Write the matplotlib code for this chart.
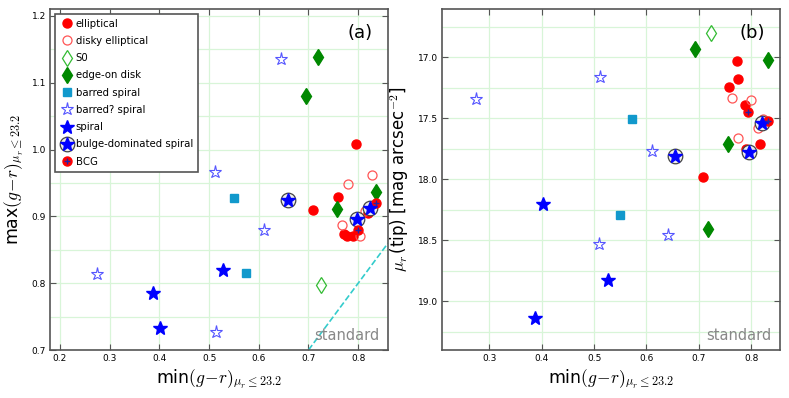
import numpy as np
import matplotlib
matplotlib.use("Agg")
import matplotlib.pyplot as plt

plt.rcParams['mathtext.fontset'] = 'cm'
plt.rcParams['font.family'] = 'DejaVu Sans'

# min(g-r) per galaxy type, max(g-r) for panel (a), mu_r(tip) for panel (b)
ell_x = [0.709, 0.760, 0.772, 0.778, 0.790, 0.795, 0.820]
ell_a = [0.909, 0.929, 0.873, 0.871, 0.870, 1.008, 0.905]
ell_x_b = [0.707, 0.757, 0.772, 0.775, 0.788, 0.791, 0.816]
ell_b = [17.98, 17.24, 17.03, 17.18, 17.39, 17.75, 17.71]

disky_x = [0.768, 0.780, 0.803, 0.814, 0.828]
disky_a = [0.887, 0.949, 0.870, 0.908, 0.962]
disky_x_b = [0.764, 0.775, 0.800, 0.813, 0.823]
disky_b = [17.33, 17.66, 17.35, 17.58, 17.51]

s0_x = [0.726]
s0_a = [0.798]
s0_x_b = [0.723]
s0_b = [16.80]

edge_x = [0.695, 0.719, 0.758, 0.836]
edge_a = [1.080, 1.139, 0.911, 0.936]
edge_x_b = [0.693, 0.717, 0.756, 0.832]
edge_b = [16.93, 18.41, 17.71, 17.02]

barred_x = [0.551, 0.574]
barred_a = [0.928, 0.815]
barred_x_b = [0.549, 0.572]
barred_b = [18.29, 17.51]

bq_x = [0.275, 0.511, 0.514, 0.610, 0.645]
bq_a = [0.813, 0.967, 0.727, 0.879, 1.135]
bq_x_b = [0.275, 0.511, 0.510, 0.610, 0.642]
bq_b = [17.34, 17.16, 18.53, 17.77, 18.46]

sp_x = [0.387, 0.402, 0.528]
sp_a = [0.785, 0.733, 0.820]
sp_x_b = [0.387, 0.402, 0.526]
sp_b = [19.14, 18.20, 18.83]

bd_x = [0.658, 0.798, 0.823]
bd_a = [0.924, 0.896, 0.912]
bd_x_b = [0.655, 0.795, 0.821]
bd_b = [17.81, 17.78, 17.54]

bcg_x = [0.799, 0.836]
bcg_a = [0.879, 0.920]
bcg_x_b = [0.794, 0.832]
bcg_b = [17.45, 17.52]

std_line = [0.70, 0.86]

fig = plt.figure(figsize=(7.89, 3.98), dpi=100)
axa = fig.add_axes([0.0634, 0.1206, 0.4284, 0.858])
axb = fig.add_axes([0.5606, 0.1206, 0.428, 0.858])

grid_col = '#d8f5d8'
spine_col = '#555555'


def draw(ax, panel):
    if panel == 'a':
        d = dict(ell=(ell_x, ell_a), disky=(disky_x, disky_a), s0=(s0_x, s0_a),
                 edge=(edge_x, edge_a), barred=(barred_x, barred_a), bq=(bq_x, bq_a),
                 sp=(sp_x, sp_a), bd=(bd_x, bd_a), bcg=(bcg_x, bcg_a))
    else:
        d = dict(ell=(ell_x_b, ell_b), disky=(disky_x_b, disky_b), s0=(s0_x_b, s0_b),
                 edge=(edge_x_b, edge_b), barred=(barred_x_b, barred_b), bq=(bq_x_b, bq_b),
                 sp=(sp_x_b, sp_b), bd=(bd_x_b, bd_b), bcg=(bcg_x_b, bcg_b))
    h = {}
    h['ell'], = ax.plot(*d['ell'], 'o', color='#ff0000', mec='#ff0000', ms=6.5, zorder=3)
    h['disky'], = ax.plot(*d['disky'], 'o', mfc='none', mec='#ff5555', ms=6.5, mew=0.9, zorder=3)
    h['s0'], = ax.plot(*d['s0'], 'd', mfc='none', mec='#33bb33', ms=8.5, mew=0.9, zorder=3)
    h['edge'], = ax.plot(*d['edge'], 'd', color='#008800', mec='#008800', ms=8.5, zorder=3)
    h['barred'], = ax.plot(*d['barred'], 's', color='#1199cc', mec='#1199cc', ms=6, zorder=3)
    h['bq'], = ax.plot(*d['bq'], '*', mfc='none', mec='#5555ff', ms=9.5, mew=0.8, zorder=3)
    h['sp'], = ax.plot(*d['sp'], '*', color='#0000ff', mec='#0000ff', ms=10, zorder=3)
    ring, = ax.plot(*d['bd'], 'o', mfc='#eeeeee', mec='#444444', ms=10.5, mew=0.9, zorder=4)
    star, = ax.plot(*d['bd'], '*', color='#0000ff', mec='#0000ff', ms=10, zorder=5)
    h['bd'] = (ring, star)
    dot, = ax.plot(*d['bcg'], 'o', color='#ff0000', mec='#ff0000', ms=6.5, zorder=4)
    plus, = ax.plot(*d['bcg'], '+', color='#2222aa', ms=5, mew=1.0, zorder=5)
    h['bcg'] = (dot, plus)
    return h


h = draw(axa, 'a')
draw(axb, 'b')

axa.plot(std_line, std_line, '--', color='#33cccc', lw=1.2, zorder=2)

axa.set_xlim(0.18, 0.86)
axa.set_ylim(0.7, 1.211)
axa.set_xticks(np.arange(0.2, 0.81, 0.1))
axa.set_yticks(np.arange(0.7, 1.21, 0.1))
axa.set_yticks(np.arange(0.75, 1.2, 0.1), minor=True)

axb.set_xlim(0.21, 0.855)
axb.set_ylim(19.4, 16.6)
axb.set_xticks(np.arange(0.3, 0.81, 0.1))
axb.set_yticks(np.arange(17.0, 19.01, 0.5))
axb.set_yticks(np.arange(16.75, 19.4, 0.5), minor=True)

for ax in (axa, axb):
    ax.grid(True, which='both', color=grid_col, lw=0.9, zorder=0)
    ax.grid(False, which='minor', axis='x')
    ax.set_axisbelow(True)
    ax.tick_params(which='both', direction='in', top=True, right=True, labelsize=6.5,
                   color=spine_col, length=4, pad=3)
    ax.tick_params(which='minor', length=0)
    for s in ax.spines.values():
        s.set_color(spine_col)
        s.set_linewidth(1.2)
    ax.xaxis.set_major_formatter(plt.FormatStrFormatter('%.1f'))
    ax.yaxis.set_major_formatter(plt.FormatStrFormatter('%.1f'))
    ax.set_xlabel(r'min$(g\!-\!r)_{\mu_r\leq23.2}$', fontsize=12.5, labelpad=3)
    ax.text(0.975, 0.02, 'standard', transform=ax.transAxes, ha='right', va='bottom',
            fontsize=10.5, color='#888888')

axa.set_ylabel(r'max$(g\!-\!r)_{\mu_r\leq23.2}$', fontsize=12.5, labelpad=5)
axb.set_ylabel(r'$\mu_r\,$(tip) [mag arcsec$^{-2}$]', fontsize=12, labelpad=5)

axa.text(0.955, 0.955, '(a)', transform=axa.transAxes, ha='right', va='top', fontsize=13)
axb.text(0.955, 0.955, '(b)', transform=axb.transAxes, ha='right', va='top', fontsize=13)

labels = ['elliptical', 'disky elliptical', 'S0', 'edge-on disk', 'barred spiral',
          'barred? spiral', 'spiral', 'bulge-dominated spiral', 'BCG']
keys = ['ell', 'disky', 's0', 'edge', 'barred', 'bq', 'sp', 'bd', 'bcg']
leg = axa.legend([h[k] for k in keys], labels, loc='upper left', numpoints=1,
                 fontsize=7.25, frameon=True, fancybox=False, framealpha=1,
                 borderpad=0.5, labelspacing=0.72, handletextpad=0.25, handlelength=1.3,
                 borderaxespad=0.5)
leg.get_frame().set_edgecolor('#555555')
leg.get_frame().set_linewidth(1.2)

fig.savefig('out.png', dpi=100)
